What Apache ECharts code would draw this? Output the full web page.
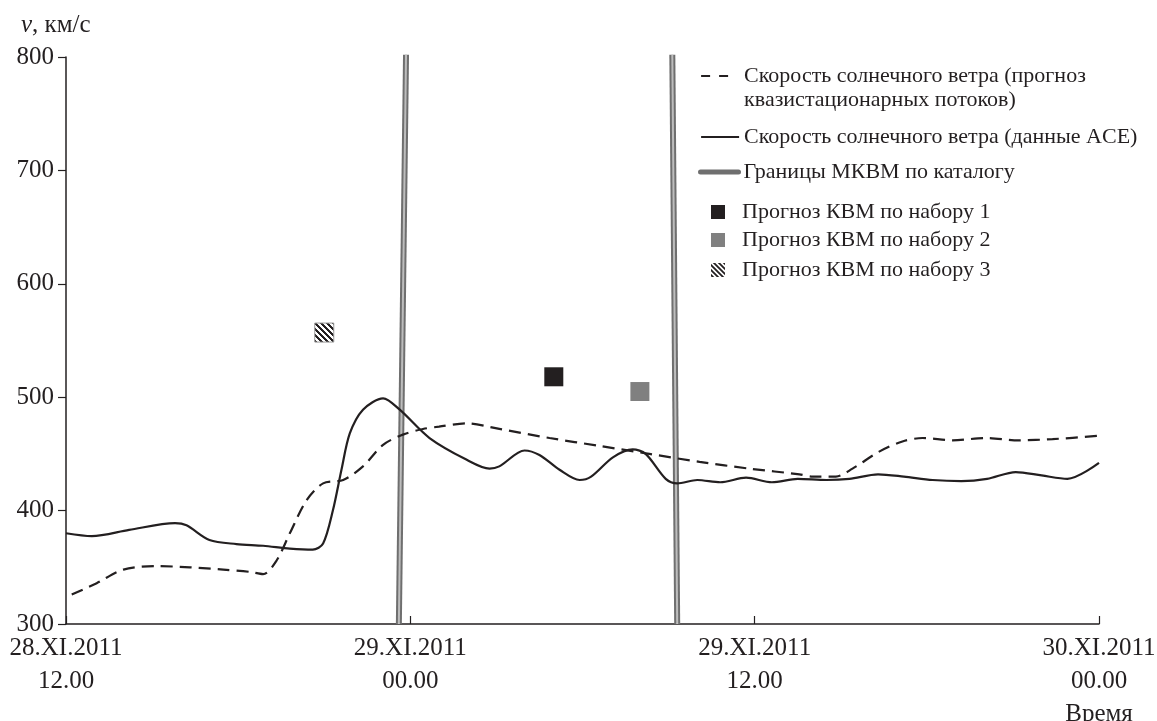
<!DOCTYPE html>
<html><head><meta charset="utf-8">
<script src="https://cdn.jsdelivr.net/npm/echarts@6/dist/echarts.min.js"></script>
<style>html,body{margin:0;padding:0;background:#fff}#c{width:1157px;height:721px}</style>
</head><body><div id="c"></div>
<script>
// x = hours since 28.XI.2011 12.00
const xTickLabels = ['28.XI.2011\n12.00', '29.XI.2011\n00.00', '29.XI.2011\n12.00', '30.XI.2011\n00.00\nВремя'];
const yTicks = [300, 400, 500, 600, 700, 800];

const forecastHours = [0.2, 1.07, 2.0, 3.16, 4.32, 5.48, 6.4, 6.87, 7.34, 7.8, 8.38, 8.96, 9.66, 10.35, 11.05, 11.74, 12.44, 13.0, 13.95, 15.1, 16.85, 18.6, 20.33, 22.08, 23.82, 25.56, 26.02, 26.83, 27.41, 28.34, 29.15, 29.85, 30.9, 32.06, 33.2, 34.38, 36];
const forecastValues = [326, 336, 348, 351, 350, 348, 346, 344, 356, 380, 409, 424, 427, 439, 458, 467, 472, 474, 477, 472, 464, 457, 450, 443, 437, 432, 430, 430, 437, 452, 461, 464, 462, 464, 462, 463, 466];

const aceHours = [0, 0.9, 2.2, 3.8, 4.2, 5.0, 5.94, 6.87, 7.8, 8.6, 8.96, 9.3, 9.6, 9.89, 10.35, 11.05, 11.63, 12.67, 13.95, 14.76, 15.1, 15.98, 16.5, 17.2, 17.9, 18.3, 19.06, 19.75, 20.2, 20.9, 21.3, 22.0, 22.8, 23.7, 24.6, 25.5, 26.5, 27.3, 28.3, 29.2, 30.2, 31.2, 32.1, 33.1, 34.0, 34.9, 36];
const aceValues = [380, 377.5, 383, 389, 387, 374, 370.5, 369, 366.5, 365.5, 371, 400, 436, 468, 489, 499, 489, 464, 445, 437, 439, 453, 449, 436, 427, 430, 447, 454, 450, 428, 424, 427, 425, 429, 425, 428, 427, 428, 432, 430, 427, 426, 428, 434, 431, 428, 442];

const boundary1Hours = [11.6, 11.85];
const boundary1Values = [300, 802];
const boundary2Hours = [21.3, 21.13];
const boundary2Values = [300, 802];

const set1Hours = [17];
const set1Values = [518];
const set2Hours = [20];
const set2Values = [505];
const set3Hours = [9];
const set3Values = [557];

const names = {
  forecast: 'Скорость солнечного ветра (прогноз квазистационарных потоков)',
  ace: 'Скорость солнечного ветра (данные ACE)',
  bound: 'Границы МКВМ по каталогу',
  s1: 'Прогноз КВМ по набору 1',
  s2: 'Прогноз КВМ по набору 2',
  s3: 'Прогноз КВМ по набору 3'
};

const zip = (a, b) => a.map((v, i) => [v, b[i]]);
const FONT = 'Liberation Serif, DejaVu Serif, serif';
const INK = '#231f20';

function hatch(period, lw) {
  const c = document.createElement('canvas');
  c.width = c.height = period;
  const g = c.getContext('2d');
  g.fillStyle = '#fff'; g.fillRect(0, 0, period, period);
  g.strokeStyle = INK; g.lineWidth = lw;
  const h = period / 2;
  g.beginPath();
  g.moveTo(-h, -h); g.lineTo(period + h, period + h);
  g.moveTo(-h, h); g.lineTo(h, period + h);
  g.moveTo(h, -h); g.lineTo(period + h, h);
  g.stroke();
  return c;
}
const SYM = 19;
// symbol paths are drawn at unit size and scaled by SYM/2, so the pattern is pre-scaled down
const hatchSeries = { image: hatch(60, 20), repeat: 'repeat', scaleX: 6 / (60 * SYM / 2), scaleY: 6 / (60 * SYM / 2) };
const hatchLegend = { image: hatch(5, 1.8), repeat: 'repeat' };

const legendText = { fontFamily: FONT, fontSize: 22, color: INK, lineHeight: 24 };
const sq = 'path://M0,0h10v10h-10z';
function mkLegend(name, left, top, extra) {
  return Object.assign({
    data: [name], left: left, top: top, orient: 'vertical', padding: 0,
    itemWidth: 38, itemHeight: 14, selectedMode: false,
    itemStyle: { opacity: 0 },
    textStyle: Object.assign({}, legendText)
  }, extra || {});
}

const chart = echarts.init(document.getElementById('c'), null, { renderer: 'canvas' });
chart.setOption({
  animation: false,
  backgroundColor: '#fff',
  title: {
    text: '{i|v}, км/с', left: 16, top: 8,
    textStyle: { fontFamily: FONT, fontSize: 25, fontWeight: 'normal', color: INK,
      rich: { i: { fontStyle: 'italic', fontFamily: FONT, fontSize: 25, color: INK } } }
  },
  legend: [
    mkLegend(names.forecast, 700, 40, {
      formatter: () => '\nСкорость солнечного ветра (прогноз\nквазистационарных потоков)',
      lineStyle: { type: [9, 9, 9, 100], width: 2.2 }
    }),
    mkLegend(names.ace, 700, 125, { lineStyle: { width: 2.2 } }),
    mkLegend(names.bound, 698, 160, { lineStyle: { width: 5, cap: 'round', color: '#6f6f6f' } }),
    mkLegend(names.s1, 711, 200, { itemStyle: {}, data: [{ name: names.s1, icon: sq }] }),
    mkLegend(names.s2, 711, 228, { itemStyle: {}, data: [{ name: names.s2, icon: sq }] }),
    mkLegend(names.s3, 711, 258, { itemStyle: {}, data: [{ name: names.s3, icon: sq, itemStyle: { color: hatchLegend, borderWidth: 0 } }] })
  ],
  grid: { left: 66, right: 58, top: 57, bottom: 97, containLabel: false, outerBoundsMode: 'none' },
  xAxis: {
    type: 'value', min: 0, max: 36, interval: 12,
    axisLine: { lineStyle: { color: INK, width: 1.5 } },
    axisTick: { inside: true, length: 8, lineStyle: { color: INK, width: 1.2 } },
    splitLine: { show: false },
    axisLabel: {
      fontFamily: FONT, fontSize: 25, lineHeight: 33, color: INK, margin: 8,
      hideOverlap: false,
      formatter: v => xTickLabels[Math.round(v / 12)]
    }
  },
  yAxis: {
    type: 'value', min: 300, max: 800, interval: 100,
    axisLine: { show: true, lineStyle: { color: INK, width: 1.5 } },
    axisTick: { show: true, inside: false, length: 8, lineStyle: { color: INK, width: 1.2 } },
    splitLine: { show: false },
    axisLabel: { fontFamily: FONT, fontSize: 25, color: INK, margin: 12,
      formatter: v => yTicks.includes(v) ? String(v) : '' }
  },
  series: [
    { name: names.bound, type: 'line', data: zip(boundary1Hours, boundary1Values), symbol: 'none', clip: false,
      lineStyle: { color: '#6f6f6f', width: 6 }, itemStyle: { color: '#6f6f6f' }, z: 1 },
    { name: names.bound, type: 'line', data: zip(boundary2Hours, boundary2Values), symbol: 'none', clip: false,
      lineStyle: { color: '#6f6f6f', width: 6 }, itemStyle: { color: '#6f6f6f' }, z: 1 },
    { name: 'inner1', type: 'line', data: zip(boundary1Hours, boundary1Values), symbol: 'none', clip: false,
      lineStyle: { color: '#bdbdbd', width: 2 }, z: 1 },
    { name: 'inner2', type: 'line', data: zip(boundary2Hours, boundary2Values), symbol: 'none', clip: false,
      lineStyle: { color: '#bdbdbd', width: 2 }, z: 1 },
    { name: names.forecast, type: 'line', data: zip(forecastHours, forecastValues), symbol: 'none', smooth: 0.3,
      lineStyle: { color: INK, width: 2.2, type: [12, 7] }, itemStyle: { color: INK }, z: 3 },
    { name: names.ace, type: 'line', data: zip(aceHours, aceValues), symbol: 'none', smooth: 0.3,
      lineStyle: { color: INK, width: 2.2 }, itemStyle: { color: INK }, z: 3 },
    { name: names.s1, type: 'scatter', data: zip(set1Hours, set1Values), symbol: 'rect', symbolSize: SYM,
      itemStyle: { color: '#231f20', opacity: 1 }, z: 4 },
    { name: names.s2, type: 'scatter', data: zip(set2Hours, set2Values), symbol: 'rect', symbolSize: SYM,
      itemStyle: { color: '#808080', opacity: 1 }, z: 4 },
    { name: names.s3, type: 'scatter', data: zip(set3Hours, set3Values), symbol: 'rect', symbolSize: SYM,
      itemStyle: { color: hatchSeries, borderColor: '#9a9a9a', borderWidth: 1, opacity: 1 }, z: 4 }
  ]
});
</script>
</body></html>
